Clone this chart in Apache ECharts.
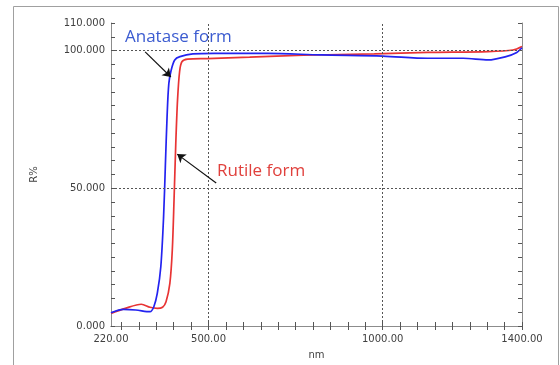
<!DOCTYPE html>
<html>
<head>
<meta charset="utf-8">
<script src="https://cdn.jsdelivr.net/npm/echarts@6/dist/echarts.min.js"></script>
<style>
  html, body { margin: 0; padding: 0; background: #fff; }
  #chart { width: 560px; height: 365px; }
</style>
</head>
<body>
<div id="chart"></div>
<script>
// reflectance spectra
const anataseNm = [220, 256, 291, 332, 343, 353, 363, 371, 376, 381, 386, 393, 403, 418, 455, 516, 670, 823, 1000, 1129, 1231, 1303, 1354, 1385, 1400];
const anataseR  = [4.8, 6.0, 5.8, 5.2, 7.0, 11.9, 21.5, 39.7, 57.9, 76.0, 88.0, 93.0, 96.6, 97.8, 98.8, 99.0, 99.0, 98.4, 98.0, 97.2, 97.2, 96.6, 97.8, 99.3, 101.0];
const rutileNm  = [220, 261, 307, 332, 353, 368, 378, 389, 396, 401, 406, 411, 417, 424, 440, 496, 618, 772, 976, 1129, 1303, 1374, 1400];
const rutileR   = [4.6, 6.4, 7.9, 6.8, 6.4, 6.8, 8.8, 15.5, 27.6, 45.8, 66.3, 82.0, 92.4, 96.0, 96.9, 97.1, 97.6, 98.3, 98.8, 99.3, 99.6, 100.2, 101.5];

const xLabels = [220, 500, 1000, 1400];
const xTicks = [250, 300, 350, 400, 450, 500, 550, 600, 650, 700, 750, 800, 850, 900, 950, 1000, 1050, 1100, 1150, 1200, 1250, 1300, 1350, 1400];
const yLabels = [0, 50, 100, 110];
const yTicks = [0, 5, 10, 15, 20, 25, 30, 35, 40, 45, 50, 55, 60, 65, 70, 75, 80, 85, 90, 95, 100, 105, 110];
const xGrid = [500, 1000];
const yGrid = [50, 100];

const chart = echarts.init(document.getElementById('chart'));

const axisGrey = '#8c8c8c';
const txt = '#404040';

function zip(xs, ys) {
  return xs.map((x, i) => [x, ys[i]]);
}

chart.setOption({
  animation: false,
  grid: { left: 111, right: 38, top: 23, bottom: 39 },
  graphic: [
    {
      type: 'rect',
      shape: { x: 13.5, y: 6.5, width: 545, height: 370 },
      style: { fill: 'none', stroke: '#a0a0a0', lineWidth: 1 },
      silent: true
    },
    {
      type: 'text', left: 125, top: 29,
      style: { text: 'Anatase form', fill: '#3b5bd0', font: '17px "Open Sans"' }
    },
    {
      type: 'text', left: 217, top: 163,
      style: { text: 'Rutile form', fill: '#e0403c', font: '17px "Open Sans"' }
    }
  ],
  xAxis: [
    {
      type: 'value', min: 220, max: 1400,
      name: 'nm', nameLocation: 'middle', nameGap: 24,
      nameTextStyle: { color: txt, fontSize: 10, fontFamily: 'DejaVu Sans' },
      axisLine: { show: true, lineStyle: { color: axisGrey } },
      axisTick: { show: true, inside: true, length: 4, customValues: xTicks, lineStyle: { color: '#555' } },
      axisLabel: { customValues: xLabels, color: txt, fontSize: 10, fontFamily: 'DejaVu Sans', margin: 8,
        formatter: v => v.toFixed(2) },
      splitLine: { show: false }
    },
    {
      type: 'value', min: 220, max: 1400, position: 'top',
      axisLine: { show: true, lineStyle: { color: axisGrey } },
      axisTick: { show: true, inside: true, length: 4, customValues: xTicks, lineStyle: { color: '#555' } },
      axisLabel: { show: false },
      splitLine: { show: false }
    }
  ],
  yAxis: [
    {
      type: 'value', min: 0, max: 110,
      name: 'R%', nameLocation: 'middle', nameGap: 72, nameRotate: 90,
      nameTextStyle: { color: txt, fontSize: 10, fontFamily: 'DejaVu Sans' },
      axisLine: { show: true, lineStyle: { color: axisGrey } },
      axisTick: { show: true, inside: true, length: 4, customValues: yTicks, lineStyle: { color: '#555' } },
      axisLabel: { customValues: yLabels, color: txt, fontSize: 10, fontFamily: 'DejaVu Sans', margin: 6,
        formatter: v => v.toFixed(3) },
      splitLine: { show: false }
    },
    {
      type: 'value', min: 0, max: 110, position: 'right',
      axisLine: { show: true, lineStyle: { color: axisGrey } },
      axisTick: { show: true, inside: true, length: 4, customValues: yTicks, lineStyle: { color: '#555' } },
      axisLabel: { show: false },
      splitLine: { show: false }
    }
  ],
  series: [
    {
      name: 'Rutile form', type: 'line', data: zip(rutileNm, rutileR),
      showSymbol: false, smooth: 0.3,
      lineStyle: { color: '#e83434', width: 1.7 },
      markLine: {
        silent: true, symbol: 'none', animation: false,
        label: { show: false },
        lineStyle: { color: '#555', type: [2, 2], width: 1 },
        data: xGrid.map(v => ({ xAxis: v })).concat(yGrid.map(v => ({ yAxis: v })))
      },
      z: 3
    },
    {
      name: 'Anatase form', type: 'line', data: zip(anataseNm, anataseR),
      showSymbol: false, smooth: 0.3,
      lineStyle: { color: '#2323f0', width: 1.7 },
      markLine: {
        silent: true, symbol: ['none', 'arrow'], symbolSize: 8, animation: false,
        label: { show: false },
        lineStyle: { color: '#111', type: 'solid', width: 1.2 },
        data: [
          [{ coord: [318, 99.5] }, { coord: [392, 90.4] }],
          [{ coord: [522, 51.9] }, { coord: [410, 62.4] }]
        ]
      },
      z: 4
    }
  ]
});
</script>
</body>
</html>
